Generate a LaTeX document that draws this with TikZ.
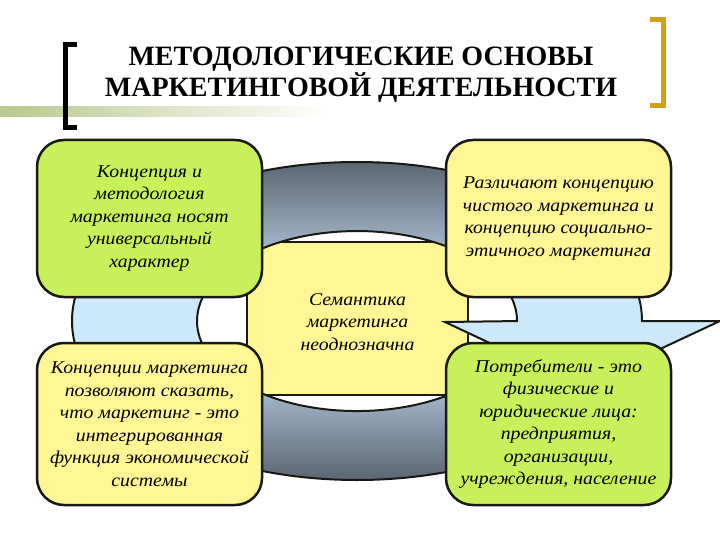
\documentclass[tikz,border=0pt]{standalone}
\usepackage{fontspec}
\setmainfont{LiberationSerif}[Extension=.ttf, UprightFont=*-Regular, BoldFont=*-Bold, ItalicFont=*-Italic, BoldItalicFont=*-BoldItalic]
\newfontfamily\boxfont{LiberationSerif}[Extension=.ttf, UprightFont=*-Regular, ItalicFont=*-Italic, FakeStretch=1.1]
\usetikzlibrary{calc}
\definecolor{boxgreen}{RGB}{200,240,90}
\definecolor{boxyellow}{RGB}{255,246,150}
\definecolor{ringblue}{RGB}{204,232,250}
\definecolor{ringdark}{RGB}{88,100,112}
\definecolor{ringlight}{RGB}{165,184,204}
\definecolor{gold}{RGB}{210,160,20}
\definecolor{olivebar}{RGB}{185,200,140}
\definecolor{outline}{RGB}{25,25,20}
\tikzset{
  infobox/.style={draw=outline, line width=2.5pt, rounded corners=27pt,
    minimum width=225pt, minimum height=157pt, align=center, inner sep=2pt,
    font=\boxfont\itshape\fontsize{18}{22.5}\selectfont},
  centerbox/.style={draw=outline, line width=2.5pt, fill=boxyellow,
    minimum width=221pt, minimum height=153pt},
  centertext/.style={align=center, inner sep=0pt,
    font=\boxfont\itshape\fontsize{18}{22.5}\selectfont},
  titletext/.style={align=center, inner sep=0pt,
    font=\bfseries\fontsize{28}{27}\selectfont},
  bracketline/.style={line width=5pt}
}
\def\ringpath{(642,321) arc[start angle=0,end angle=-320,x radius=285,y radius=159]
  -- (479.6,378.9) arc[start angle=-320,end angle=0,x radius=160,y radius=90]
  -- (445,322) -- (581,386) -- (720,321) -- cycle}
\begin{document}
\begin{tikzpicture}[x=1pt,y=-1pt]
\useasboundingbox (0,0) rectangle (720,540);
% title decoration
\shade[left color=olivebar, right color=white] (0,107) rectangle (330,117);
\draw[bracketline, black] (77,44.5) -- (65.5,44.5) -- (65.5,127.5) -- (77,127.5);
\draw[bracketline, gold] (650,19.5) -- (663,19.5) -- (663,105.5) -- (650,105.5);
\node[titletext] (title) at (361,75) {МЕТОДОЛОГИЧЕСКИЕ ОСНОВЫ\\МАРКЕТИНГОВОЙ ДЕЯТЕЛЬНОСТИ};
% centre
\node[centerbox] (c) at (357.5,318.5) {};
\node[centertext] (ctext) at (357.5,322) {Семантика\\маркетинга\\неоднозначна};
% ring with arrow
\fill[ringblue] \ringpath;
\begin{scope}
  \clip \ringpath;
  \shade[top color=ringdark, bottom color=ringlight] (0,160) rectangle (720,250);
  \shade[top color=ringlight, bottom color=ringdark] (0,390) rectangle (720,482);
\end{scope}
\draw[outline, line width=2pt, line join=miter] \ringpath;
% boxes
\node[infobox, fill=boxgreen] (tl) at (149.5,218.5) {Концепция и\\методология\\маркетинга носят\\универсальный\\характер};
\node[infobox, fill=boxyellow] (tr) at (558.5,218.5) {Различают концепцию\\чистого маркетинга и\\концепцию социально-\\этичного маркетинга};
\node[infobox, fill=boxyellow, minimum height=162pt] (bl) at (149.5,424) {Концепции маркетинга\\позволяют сказать,\\что маркетинг - это\\интегрированная\\функция экономической\\системы};
\node[infobox, fill=boxgreen, minimum height=162pt] (br) at (558.5,424) {Потребители - это\\физические и\\юридические лица:\\предприятия,\\организации,\\учреждения, население};
\end{tikzpicture}
\end{document}
